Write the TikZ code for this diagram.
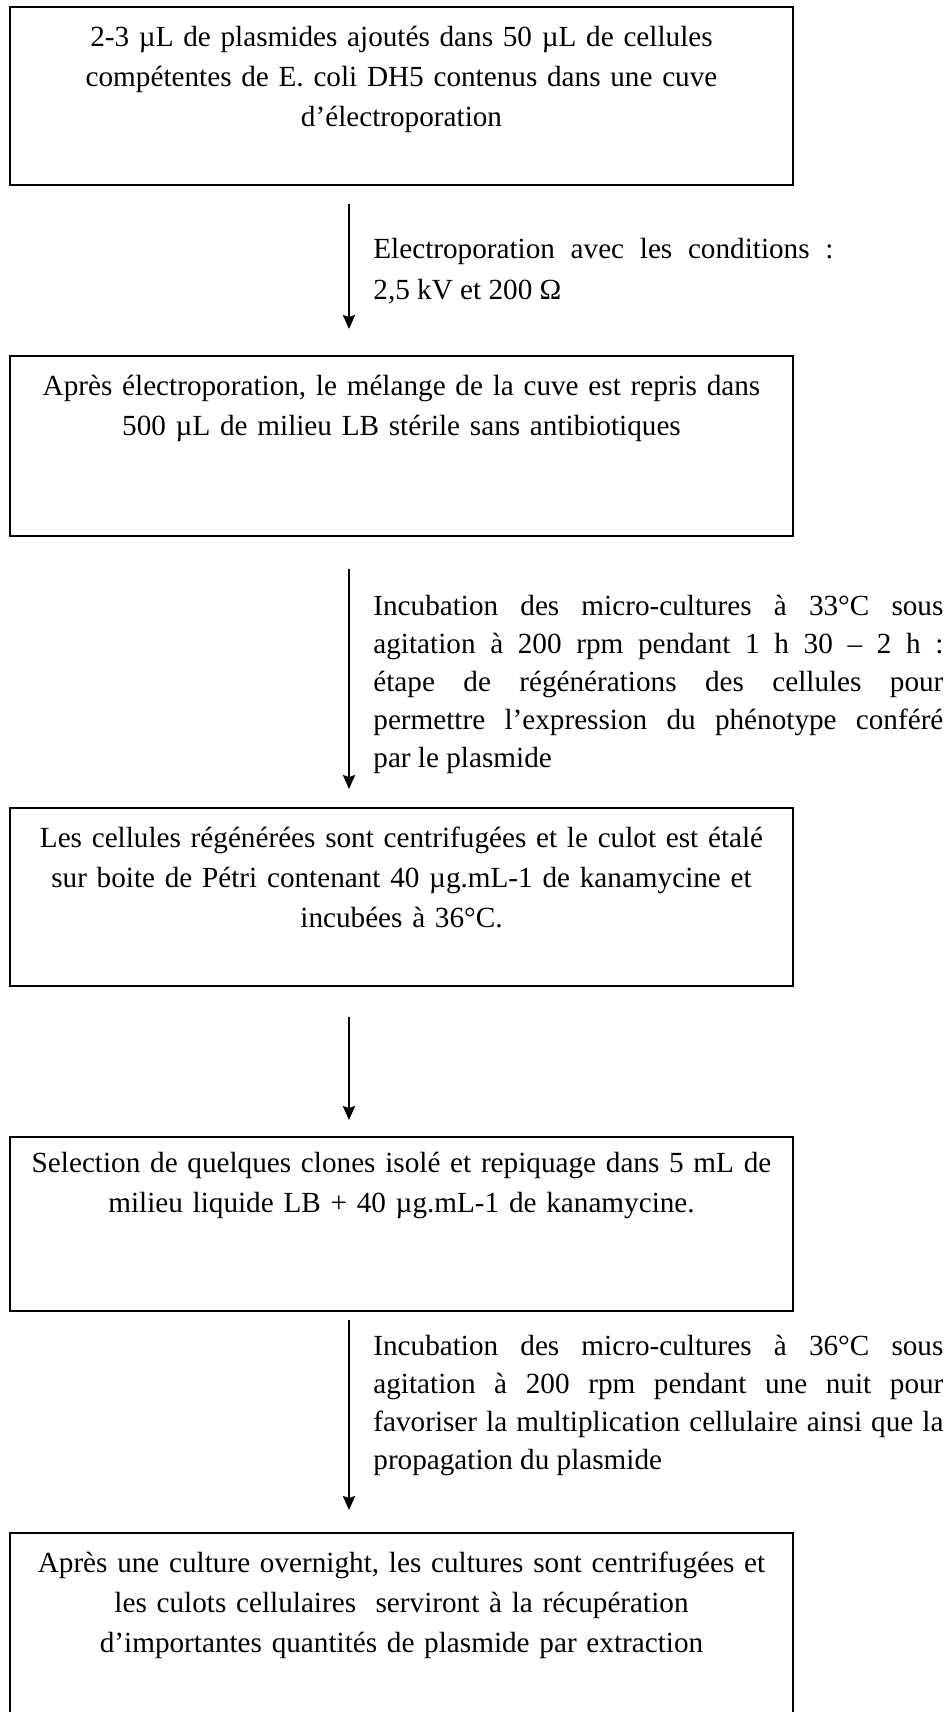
\documentclass[tikz,border=0pt]{standalone}
\usepackage{fontspec}
\setmainfont{Liberation Serif}
\usetikzlibrary{arrows.meta}
\begin{document}
\begin{tikzpicture}[x=0.5pt,y=-0.5pt,
  box/.style={draw, line width=0.9pt, inner sep=0pt, minimum width=391.5pt},
  boxtext/.style={anchor=north, align=center, inner sep=0pt, text width=385pt,
    font=\fontsize{14.6}{20}\selectfont},
  sidetext/.style={anchor=north west, align=justify, inner sep=0pt,
    font=\fontsize{14.6}{19}\selectfont},
  arr/.style={line width=1.3pt, -{Stealth[length=7pt,width=6pt,inset=1pt]}}
]
\useasboundingbox (0,0) rectangle (945,1712);
\clip (0,0) rectangle (945,1712);
\coordinate (ax) at (349,0);
% boxes
\node[box, minimum height=89pt] (b1) at (401.5,96) {};
\node[box, minimum height=90pt] (b2) at (401.5,446) {};
\node[box, minimum height=89pt] (b3) at (401.5,897) {};
\node[box, minimum height=87pt] (b4) at (401.5,1224) {};
\node[box, minimum height=100pt] (b5) at (401.5,1633) {};
% box texts
\node[boxtext] (t1) at ([yshift=-6pt]b1.north) {\strut 2-3 µL de plasmides ajoutés dans 50 µL de cellules\\
compétentes de E. coli DH5 contenus dans une cuve\\ d’électroporation};
\node[boxtext] (t2) at ([yshift=-6pt]b2.north) {\strut Après électroporation, le mélange de la cuve est repris dans\\
500 µL de milieu LB stérile sans antibiotiques};
\node[boxtext] (t3) at ([yshift=-6pt]b3.north) {\strut Les cellules régénérées sont centrifugées et le culot est étalé\\
sur boite de Pétri contenant 40 µg.mL-1 de kanamycine et\\ incubées à 36°C.};
\node[boxtext] (t4) at ([yshift=-4pt]b4.north) {\strut Selection de quelques clones isolé et repiquage dans 5 mL de\\
milieu liquide LB + 40 µg.mL-1 de kanamycine.};
\node[boxtext] (t5) at ([yshift=-6pt]b5.north) {\strut Après une culture overnight, les cultures sont centrifugées et\\
les culots cellulaires\ \ serviront à la récupération\\
d’importantes quantités de plasmide par extraction};
% arrows
\draw[arr, shorten <=9pt, shorten >=13pt] (b1.south -| ax) -- (b2.north -| ax);
\draw[arr, shorten <=16pt, shorten >=9pt] (b2.south -| ax) -- (b3.north -| ax);
\draw[arr, shorten <=15pt, shorten >=8pt] (b3.south -| ax) -- (b4.north -| ax);
\draw[arr, shorten <=4pt, shorten >=11pt] (b4.south -| ax) -- (b5.north -| ax);
% side texts
\node[sidetext, text width=230pt, font=\fontsize{14.6}{20.5}\selectfont] (s1) at (373,229) {\strut Electroporation avec les conditions :\linebreak
2,5 kV et 200 Ω};
\node[sidetext, text width=285pt] (s2) at (373,588) {\strut Incubation des micro-cultures à 33°C sous\linebreak
agitation à 200 rpm pendant 1 h 30 – 2 h :\linebreak
étape de régénérations des cellules pour\linebreak
permettre l’expression du phénotype conféré\linebreak
par le plasmide};
\node[sidetext, text width=285pt] (s4) at (373,1328) {\strut Incubation des micro-cultures à 36°C sous\linebreak
agitation à 200 rpm pendant une nuit pour\linebreak
favoriser la multiplication cellulaire ainsi que la\linebreak
propagation du plasmide};
\end{tikzpicture}
\end{document}
